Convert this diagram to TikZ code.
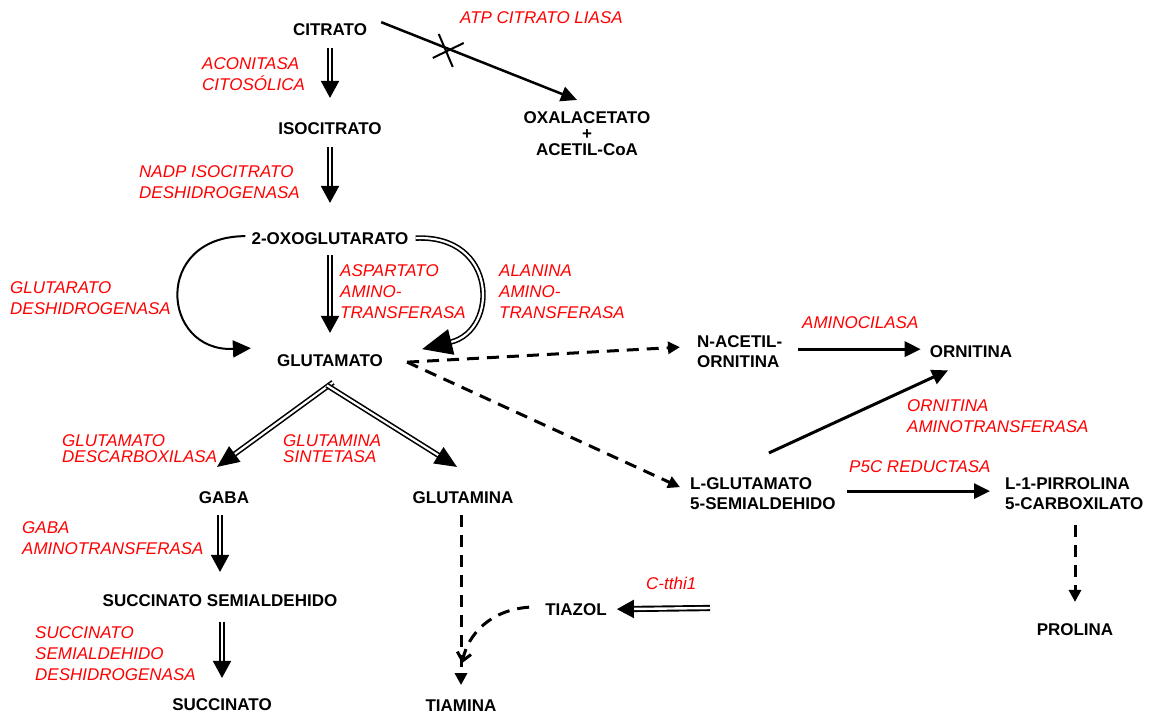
\documentclass[tikz,border=0pt]{standalone}
\usepackage{fontspec}
\setmainfont{Liberation Sans}
\usetikzlibrary{arrows.meta,calc}
\begin{document}
\begin{tikzpicture}[x=1pt,y=-1pt,
  met/.style={font=\bfseries\fontsize{17}{20}\selectfont, inner sep=0pt, anchor=base},
  metl/.style={met, anchor=base west, align=left},
  enz/.style={font=\itshape\fontsize{17}{21}\selectfont, text=red, inner sep=0pt, anchor=base west, align=left},
  enztight/.style={enz, font=\itshape\fontsize{17}{16}\selectfont},
  dbl/.style={draw, double, line width=1.9pt, double distance=2.4pt, -{Triangle[length=17pt,width=18pt]}},
  dbldiag/.style={draw, double, line width=1.6pt, double distance=2.2pt, -{Triangle[length=22pt,width=19pt]}},
  solidarrow/.style={draw, line width=3pt, -{Triangle[length=16pt,width=15pt]}},
  dsh/.style={draw, line width=3pt, dash pattern=on 12pt off 8pt, -{Triangle[length=12pt,width=12pt]}}
]
\useasboundingbox (0,0) rectangle (1155,713);

% metabolites (multi-line nodes: base = baseline of last line)
\node[met] (citrato) at (330,35) {CITRATO};
\node[met] (isocitrato) at (330,134) {ISOCITRATO};
\node[met, align=center, font=\bfseries\fontsize{17}{16}\selectfont] (oxal) at (587,155) {OXALACETATO\\+\\ACETIL-CoA};
\node[met] (oxo) at (330,244) {2-OXOGLUTARATO};
\node[met] (glutamato) at (330,366) {GLUTAMATO};
\node[met] (gaba) at (224,503) {GABA};
\node[met] (glutamina) at (463,503) {GLUTAMINA};
\node[met] (succsemi) at (220,606) {SUCCINATO SEMIALDEHIDO};
\node[met] (succinato) at (222,710) {SUCCINATO};
\node[met] (tiamina) at (461,711) {TIAMINA};
\node[met] (tiazol) at (576,615) {TIAZOL};
\node[metl] (nacetil) at (697,367) {N-ACETIL-\\ORNITINA};
\node[met] (ornitina) at (971,357) {ORNITINA};
\node[metl] (lglut) at (690,509) {L-GLUTAMATO\\5-SEMIALDEHIDO};
\node[metl] (pirrolina) at (1005,509) {L-1-PIRROLINA\\5-CARBOXILATO};
\node[met] (prolina) at (1075,635) {PROLINA};

% enzymes
\node[enz] (atp) at (460,23) {ATP CITRATO LIASA};
\node[enz] (aconitasa) at (202,90) {ACONITASA\\CITOSÓLICA};
\node[enz] (nadp) at (139,198) {NADP ISOCITRATO\\DESHIDROGENASA};
\node[enz] (glutarato) at (10,314) {GLUTARATO\\DESHIDROGENASA};
\node[enz] (aspartato) at (340,318) {ASPARTATO\\AMINO-\\TRANSFERASA};
\node[enz] (alanina) at (499,318) {ALANINA\\AMINO-\\TRANSFERASA};
\node[enz] (aminocilasa) at (802,328) {AMINOCILASA};
\node[enz] (ornamino) at (907,432) {ORNITINA\\AMINOTRANSFERASA};
\node[enz] (p5c) at (849,472) {P5C REDUCTASA};
\node[enztight] (glutdesc) at (62,462) {GLUTAMATO\\DESCARBOXILASA};
\node[enztight] (glutsint) at (283,462) {GLUTAMINA\\SINTETASA};
\node[enz] (gabaamino) at (22,554) {GABA\\AMINOTRANSFERASA};
\node[enz] (succdesh) at (35,680) {SUCCINATO\\SEMIALDEHIDO\\DESHIDROGENASA};
\node[enz] (cthi) at (646,589) {C-tthi1};

% main vertical chain
\draw[dbl, shorten <=13pt, shorten >=24pt] (citrato) -- (isocitrato);
\draw[dbl, shorten <=13pt, shorten >=29pt] (isocitrato) -- (oxo);
\draw[dbl, shorten <=11pt, shorten >=21pt] (oxo) -- (glutamato);

% citrato -> oxalacetato (blocked)
\draw[solidarrow, line width=2.5pt] ([shift={(14,-7)}]citrato.east) -- coordinate[pos=0.345] (blk) ([shift={(-10,-11)}]oxal.north);
\draw[line width=2pt] ([shift={(-10,-15)}]blk) -- ([shift={(4,18)}]blk);
\draw[line width=2pt] ([shift={(-16,9)}]blk) -- ([shift={(15,-6)}]blk);

% 2-oxoglutarato -> glutamato side routes
\draw[line width=2pt, -{Triangle[length=18pt,width=17pt]}] ([shift={(-6,-2)}]oxo.west) .. controls +(-93,0) and +(-90,4) .. ([shift={(-26,-12)}]glutamato.west);
\draw[double, line width=1.6pt, double distance=2.2pt, -{Triangle[length=30pt,width=26pt]}] ([shift={(7,0)}]oxo.east) .. controls +(82,-4) and +(77,-19) .. ([shift={(39,-11)}]glutamato.east);

% glutamato -> dashed routes
\draw[dsh] ([shift={(24,2)}]glutamato.east) -- ([shift={(-17,-4)}]nacetil.west);
\draw[dsh] ([shift={(24,2)}]glutamato.east) -- ([shift={(-10,-6)}]lglut.west);

% glutamato -> gaba / glutamina
\draw[dbldiag] ([shift={(3,16)}]glutamato.south) -- ([shift={(-7,-24)}]gaba.north);
\draw[dbldiag] ([shift={(-3,19)}]glutamato.south) -- ([shift={(-6,-24)}]glutamina.north);

% gaba chain
\draw[dbl, shorten <=12pt, shorten >=22pt] (gaba.south -| succsemi.north) -- (succsemi.north);
\draw[dbl, shorten <=16pt, shorten >=20pt] (succsemi.south -| succinato.north) -- (succinato.north);

% tiamina
\draw[dsh, shorten <=12pt, shorten >=14pt] (glutamina.south -| tiamina.north) -- (tiamina.north);
\draw[line width=3pt, dash pattern=on 12pt off 8pt, -{Straight Barb[length=8pt,width=14pt]}] ([shift={(-16,-2)}]tiazol.west) .. controls +(-40,3) and +(6,-28) .. ([shift={(1,-36)}]tiamina.north);
\coordinate (tiazolin) at (710,608);
\draw[dbl] (tiazolin) -- ([shift={(10,0)}]tiazol.east);

% ornitina / prolina
\draw[solidarrow] ([shift={(16,-2)}]nacetil.east) -- ([shift={(-9,-2)}]ornitina.west);
\draw[solidarrow] ([shift={(6,-24)}]lglut.north) -- ([shift={(-23,13)}]ornitina.south);
\draw[solidarrow] ([shift={(11,-2)}]lglut.east) -- ([shift={(-15,-2)}]pirrolina.west);
\draw[dsh, shorten <=16pt, shorten >=21pt] (pirrolina.south -| prolina.north) -- (prolina.north);
\end{tikzpicture}
\end{document}
